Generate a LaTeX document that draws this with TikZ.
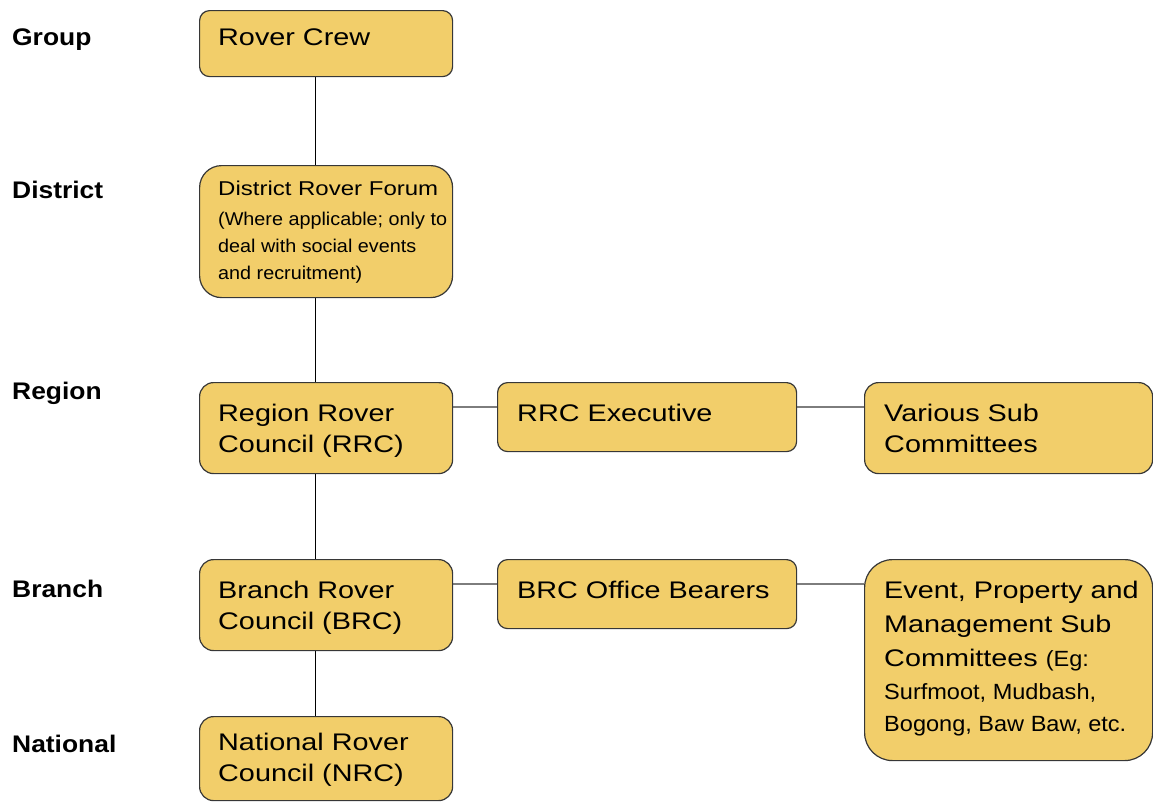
\documentclass[tikz,border=0pt]{standalone}
\usepackage{fontspec}
\setmainfont{Liberation Sans}
\newfontfamily\widefont[FakeStretch=1.2]{Liberation Sans}
\newfontfamily\labelfont[FakeStretch=1.1]{Liberation Sans}
\newfontfamily\narrowfont[FakeStretch=1.07]{Liberation Sans}
\newcommand\dnarrow{\narrowfont\fontsize{18.5}{27}\selectfont}
\newcommand\enarrow{\narrowfont\fontsize{22}{32}\selectfont}
\definecolor{boxfill}{RGB}{242,206,106}
\definecolor{boxline}{RGB}{55,55,55}
\definecolor{hlinecol}{RGB}{125,125,125}
\usetikzlibrary{backgrounds}
\tikzset{
  box/.style={draw=boxline, fill=boxfill, line width=1.2pt, inner sep=0pt, anchor=north west, rectangle},
  wtxt/.style={anchor=base west, inner sep=0pt, font=\widefont\fontsize{24}{31.5}\selectfont},
  lbl/.style={anchor=base west, inner sep=0pt, font=\labelfont\bfseries\fontsize{24}{28}\selectfont},
  vline/.style={draw=black, line width=1.4pt},
  hline/.style={draw=hlinecol, line width=1.8pt},
}
\begin{document}
\begin{tikzpicture}[x=1pt, y=-1pt]
\useasboundingbox (0,0) rectangle (1153,801);
% level labels
\node[lbl] (lgroup) at (12,45) {Group};
\node[lbl] (ldistrict) at (12,198) {District};
\node[lbl] (lregion) at (12,399) {Region};
\node[lbl] (lbranch) at (12,597) {Branch};
\node[lbl] (lnational) at (12,752) {National};
% boxes
\node[box, rounded corners=10pt, minimum width=253pt, minimum height=66pt] (crew) at (199,10) {};
\node[box, rounded corners=22pt, minimum width=253pt, minimum height=132pt] (district) at (199,165) {};
\node[box, rounded corners=14pt, minimum width=253pt, minimum height=91pt] (rrc) at (199,382) {};
\node[box, rounded corners=10pt, minimum width=299pt, minimum height=69pt] (exec) at (497,382) {};
\node[box, rounded corners=14pt, minimum width=288pt, minimum height=91pt] (various) at (864,382) {};
\node[box, rounded corners=14pt, minimum width=253pt, minimum height=91pt] (brc) at (199,559) {};
\node[box, rounded corners=10pt, minimum width=299pt, minimum height=69pt] (bearers) at (497,559) {};
\node[box, rounded corners=28pt, minimum width=288pt, minimum height=201pt] (event) at (864,559) {};
\node[box, rounded corners=14pt, minimum width=253pt, minimum height=84pt] (nrc) at (199,716) {};
% texts
\node[wtxt] (crew-t) at (218,45) {\vtop{\hbox{Rover Crew}}};
\node[wtxt, font=\widefont\fontsize{20}{24}\selectfont] (district-t) at (218,195)
  {\vtop{\hbox{District Rover Forum}\baselineskip=30pt
   \hbox{\dnarrow (Where applicable; only to}\baselineskip=27pt
   \hbox{\dnarrow deal with social events}
   \hbox{\dnarrow and recruitment)}}};
\node[wtxt] (rrc-t) at (218,421) {\vtop{\hbox{Region Rover}\hbox{Council (RRC)}}};
\node[wtxt] (exec-t) at (517,421) {\vtop{\hbox{RRC Executive}}};
\node[wtxt] (various-t) at (884,421) {\vtop{\hbox{Various Sub}\hbox{Committees}}};
\node[wtxt] (brc-t) at (218,598) {\vtop{\hbox{Branch Rover}\hbox{Council (BRC)}}};
\node[wtxt] (bearers-t) at (517,598) {\vtop{\hbox{BRC Office Bearers}}};
\node[wtxt] (event-t) at (884,598)
  {\vtop{\baselineskip=34pt
   \hbox{Event, Property and}
   \hbox{Management Sub}
   \hbox{Committees {\enarrow(Eg:}}\baselineskip=33pt
   \hbox{\enarrow Surfmoot, Mudbash,}\baselineskip=32pt
   \hbox{\enarrow Bogong, Baw Baw, etc.}}};
\node[wtxt] (nrc-t) at (218,750) {\vtop{\hbox{National Rover}\hbox{Council (NRC)}}};
% connectors
\begin{scope}[on background layer]
\draw[vline] ([xshift=-10.5pt]crew.south) -- ([xshift=-10.5pt]district.north);
\draw[vline] ([xshift=-10.5pt]district.south) -- ([xshift=-10.5pt]rrc.north);
\draw[vline] ([xshift=-10.5pt]rrc.south) -- ([xshift=-10.5pt]brc.north);
\draw[vline] ([xshift=-10.5pt]brc.south) -- ([xshift=-10.5pt]nrc.north);
\draw[hline] ([yshift=-25pt]rrc.north east) -- ([yshift=-25pt]exec.north west);
\draw[hline] ([yshift=-25pt]exec.north east) -- ([yshift=-25pt]various.north west);
\draw[hline] ([yshift=-25pt]brc.north east) -- ([yshift=-25pt]bearers.north west);
\draw[hline] ([yshift=-25pt]bearers.north east) -- ([yshift=-25pt]event.north west);
\end{scope}
\end{tikzpicture}
\end{document}
